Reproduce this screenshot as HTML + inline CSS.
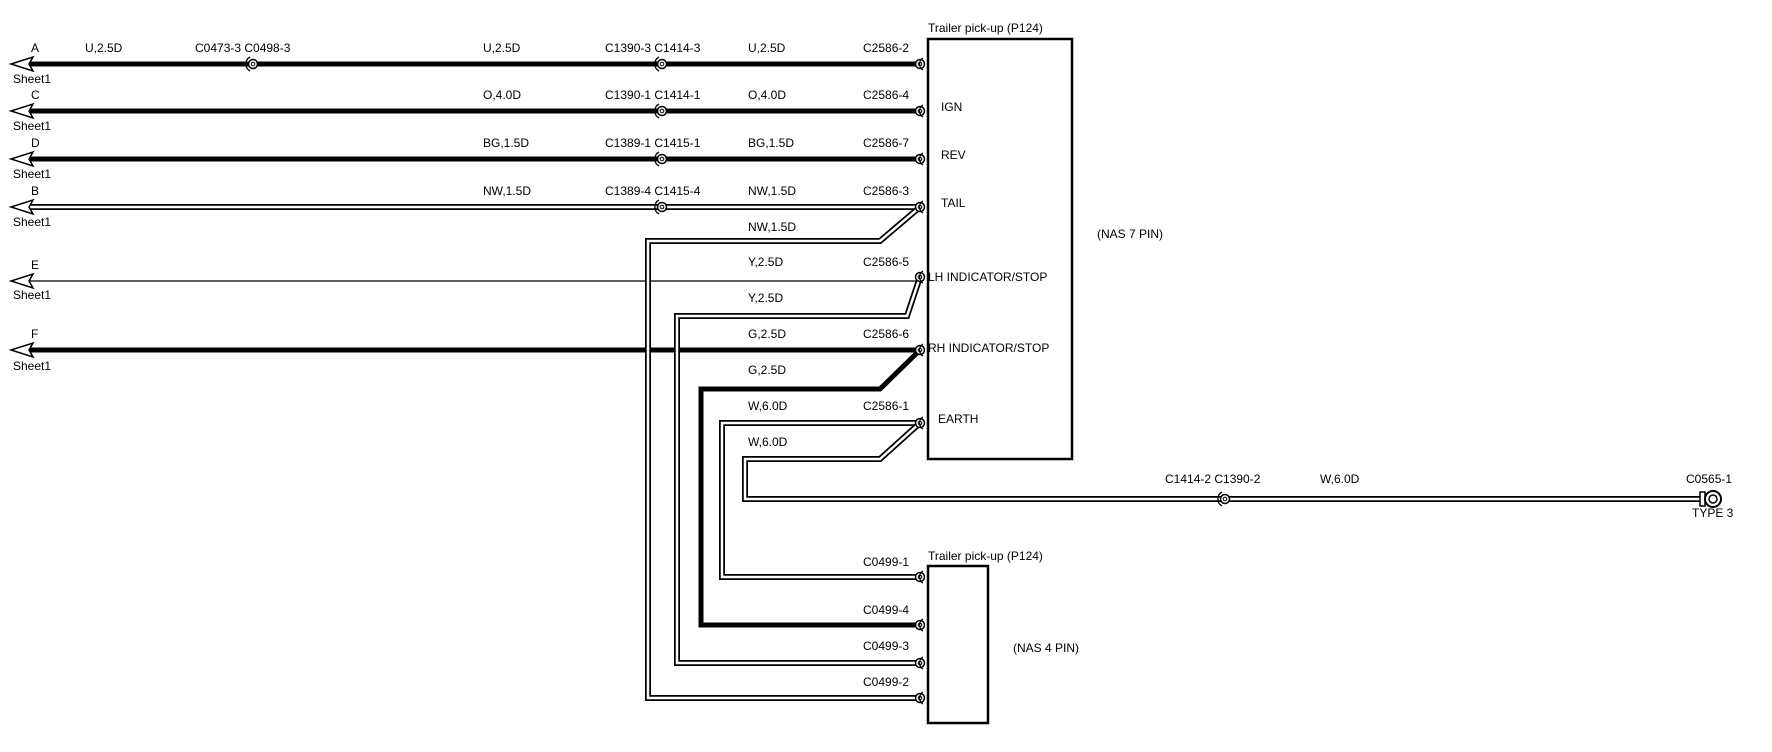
<!DOCTYPE html>
<html><head><meta charset="utf-8"><style>
html,body{margin:0;padding:0;background:#fff;}
svg{display:block;}
text{font-family:"Liberation Sans",sans-serif;font-size:12px;fill:#000;}
</style></head><body>
<svg width="1772" height="752" viewBox="0 0 1772 752" xmlns="http://www.w3.org/2000/svg">
<defs>
<g id="pin"><circle r="4.5" fill="#fff" stroke="#000" stroke-width="1.5"/><circle r="1.8" fill="none" stroke="#000" stroke-width="1"/><path d="M3 -6 A7 7 0 0 0 3 6" fill="none" stroke="#000" stroke-width="1.3"/></g>
<g id="inl"><circle r="4.5" fill="#fff" stroke="#000" stroke-width="1.5"/><circle r="1.8" fill="none" stroke="#000" stroke-width="1"/><path d="M-3 -7 A8 8 0 0 0 -3 7" fill="none" stroke="#000" stroke-width="1.3"/></g>
<g id="arr"><path d="M0 0 L22 -7 L18 0 L22 7 Z" fill="#fff" stroke="#000" stroke-width="1.5"/></g>
</defs>
<g fill="none" stroke="#000" stroke-linejoin="miter">
<!-- A -->
<path d="M30 64 H920" stroke-width="5"/>
<!-- C -->
<path d="M30 111 H920" stroke-width="5"/>
<!-- D -->
<path d="M30 159 H920" stroke-width="5"/>
<!-- B double -->
<path d="M30 207 H920" stroke-width="6"/><path d="M30 207 H920" stroke="#fff" stroke-width="2.5"/>
<!-- E thin -->
<path d="M30 281 H920" stroke-width="1.2"/>
<!-- F thick -->
<path d="M30 350 H920" stroke-width="5"/>
<!-- NW second double -->
<path d="M920 207 L880 241 H648 V698 H920" stroke-width="6"/><path d="M920 207 L880 241 H648 V698 H920" stroke="#fff" stroke-width="2.5"/>
<!-- Y double -->
<path d="M920 277 L907 316 H677 V663 H920" stroke-width="6"/><path d="M920 277 L907 316 H677 V663 H920" stroke="#fff" stroke-width="2.5"/>
<!-- G thick -->
<path d="M920 350 L880 389 H701 V625 H920" stroke-width="5"/>
<!-- W double 1 -->
<path d="M920 423 H722 V577 H920" stroke-width="6"/><path d="M920 423 H722 V577 H920" stroke="#fff" stroke-width="2.5"/>
<!-- W double 2 -->
<path d="M920 423 L880 459 H745 V499 H1712" stroke-width="6"/><path d="M920 423 L880 459 H745 V499 H1712" stroke="#fff" stroke-width="2.5"/>
<!-- boxes -->
<rect x="928" y="39" width="144" height="420" stroke-width="2.5"/>
<rect x="928" y="566" width="60" height="157" stroke-width="2.5"/>
</g>
<!-- arrows -->
<use href="#arr" x="11" y="64"/><use href="#arr" x="11" y="111"/><use href="#arr" x="11" y="159"/>
<use href="#arr" x="11" y="207"/><use href="#arr" x="11" y="281"/><use href="#arr" x="11" y="350"/>
<!-- inline connectors -->
<use href="#inl" x="253" y="64"/>
<use href="#inl" x="662" y="64"/><use href="#inl" x="662" y="111"/><use href="#inl" x="662" y="159"/><use href="#inl" x="662" y="207"/>
<use href="#inl" x="1225" y="499"/>
<!-- pins -->
<use href="#pin" x="920" y="64"/><use href="#pin" x="920" y="111"/><use href="#pin" x="920" y="159"/><use href="#pin" x="920" y="207"/>
<use href="#pin" x="920" y="277"/><use href="#pin" x="920" y="350"/><use href="#pin" x="920" y="423"/>
<use href="#pin" x="920" y="577"/><use href="#pin" x="920" y="625"/><use href="#pin" x="920" y="663"/><use href="#pin" x="920" y="698"/>
<!-- end connector -->
<rect x="1700" y="492" width="5" height="14" fill="#fff" stroke="#000" stroke-width="1.5"/>
<circle cx="1713" cy="499" r="8" fill="#fff" stroke="#000" stroke-width="2"/>
<circle cx="1713" cy="499" r="4" fill="none" stroke="#000" stroke-width="1.5"/>
<!-- labels left -->
<text x="31" y="52">A</text><text x="13" y="83" font-size="11">Sheet1</text>
<text x="31" y="99">C</text><text x="13" y="130" font-size="11">Sheet1</text>
<text x="31" y="147">D</text><text x="13" y="178" font-size="11">Sheet1</text>
<text x="31" y="195">B</text><text x="13" y="226" font-size="11">Sheet1</text>
<text x="31" y="269">E</text><text x="13" y="299" font-size="11">Sheet1</text>
<text x="31" y="338">F</text><text x="13" y="370" font-size="11">Sheet1</text>
<text x="85" y="52">U,2.5D</text><text x="195" y="52">C0473-3 C0498-3</text>
<text x="483" y="52">U,2.5D</text><text x="605" y="52">C1390-3 C1414-3</text><text x="748" y="52">U,2.5D</text><text x="863" y="52">C2586-2</text>
<text x="483" y="99">O,4.0D</text><text x="605" y="99">C1390-1 C1414-1</text><text x="748" y="99">O,4.0D</text><text x="863" y="99">C2586-4</text>
<text x="483" y="147">BG,1.5D</text><text x="605" y="147">C1389-1 C1415-1</text><text x="748" y="147">BG,1.5D</text><text x="863" y="147">C2586-7</text>
<text x="483" y="195">NW,1.5D</text><text x="605" y="195">C1389-4 C1415-4</text><text x="748" y="195">NW,1.5D</text><text x="863" y="195">C2586-3</text>
<text x="748" y="231">NW,1.5D</text>
<text x="748" y="266">Y,2.5D</text><text x="863" y="266">C2586-5</text>
<text x="748" y="302">Y,2.5D</text>
<text x="748" y="338">G,2.5D</text><text x="863" y="338">C2586-6</text>
<text x="748" y="374">G,2.5D</text>
<text x="748" y="410">W,6.0D</text><text x="863" y="410">C2586-1</text>
<text x="748" y="446">W,6.0D</text>
<text x="863" y="566">C0499-1</text><text x="863" y="614">C0499-4</text><text x="863" y="650">C0499-3</text><text x="863" y="686">C0499-2</text>
<!-- box text -->
<text x="928" y="32" font-size="14">Trailer pick-up (P124)</text>
<text x="928" y="560" font-size="14">Trailer pick-up (P124)</text>
<text x="941" y="111">IGN</text><text x="941" y="159">REV</text><text x="941" y="207">TAIL</text>
<text x="928" y="281">LH INDICATOR/STOP</text><text x="928" y="352">RH INDICATOR/STOP</text>
<text x="938" y="423">EARTH</text>
<text x="1097" y="238">(NAS 7 PIN)</text>
<text x="1013" y="652">(NAS 4 PIN)</text>
<text x="1165" y="483">C1414-2 C1390-2</text><text x="1320" y="483">W,6.0D</text>
<text x="1686" y="483">C0565-1</text><text x="1692" y="517">TYPE 3</text>
</svg>
</body></html>
